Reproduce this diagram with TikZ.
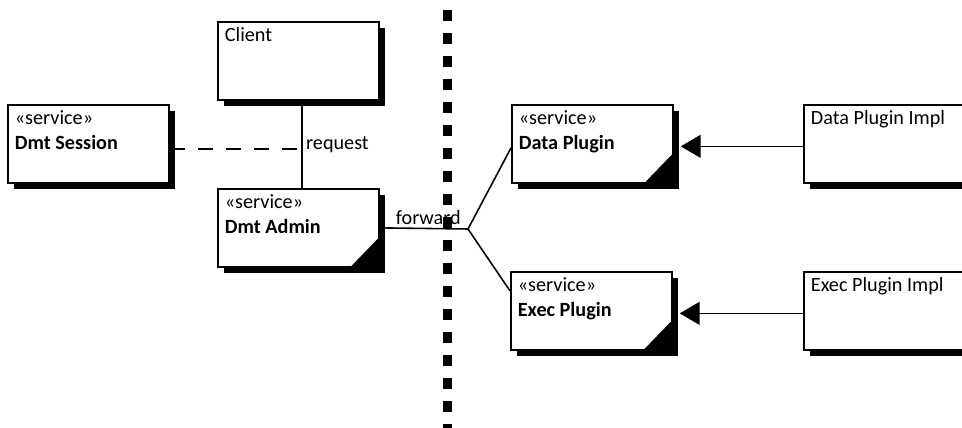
\documentclass[tikz,border=0pt]{standalone}
\usepackage{fontspec}
\setmainfont{Carlito}
\usetikzlibrary{arrows.meta,shadows}
\newcommand{\boxtext}[1]{\parbox[t][\dimexpr1.56cm-2pt\relax][t]{2.94cm}{\raggedright\strut#1}}

\begin{document}
\begin{tikzpicture}[
  x=0.02cm,y=-0.02cm,
  font=\fontsize{11.5}{14.2}\selectfont,
  box/.style={draw,line width=1pt,fill=white,anchor=north west,minimum width=3.22cm,minimum height=1.56cm,
    inner xsep=0.14cm,inner ysep=1pt,drop shadow={shadow xshift=0.13cm,shadow yshift=-0.13cm,fill=black,opacity=1}},
  conn/.style={line width=0.9pt},
  arr/.style={conn,-{Triangle[length=0.4cm,width=0.46cm]},shorten >=0.14cm},
  divider/.style={line width=0.18cm,dash pattern=on 0.22cm off 0.24cm},
  lbl/.style={inner sep=2pt}]
  \path[use as bounding box] (0,0) rectangle (962,428);
  \clip (0,0) rectangle (962,428);
  \coordinate (divtop) at (447,10);
  \coordinate (divbot) at (447,440);
  \coordinate (fork) at (468,229);
  \draw[divider] (divtop) -- (divbot);

  \node[box] (client) at (217,21) {\boxtext{Client}};
  \node[box] (session) at (7,104) {\boxtext{«service»\\\textbf{Dmt Session}}};
  \node[box] (admin) at (217,188) {\boxtext{«service»\\\textbf{Dmt Admin}}};
  \node[box] (data) at (511,104) {\boxtext{«service»\\\textbf{Data Plugin}}};
  \node[box] (exec) at (510,271) {\boxtext{«service»\\\textbf{Exec Plugin}}};
  \node[box] (dataimpl) at (803,104) {\boxtext{Data Plugin Impl}};
  \node[box] (execimpl) at (803,271) {\boxtext{Exec Plugin Impl}};
  \foreach \n in {admin,data,exec}
    \fill (\n.south east) -- ++(-0.6cm,0) -- ++(0.6cm,0.62cm) -- cycle;

  \draw[conn] ([xshift=0.07cm]client.south) -- node[right,lbl]{request} ([xshift=0.07cm]admin.north);
  \draw[conn,dashed,dash pattern=on 0.3cm off 0.26cm] ([yshift=-0.1cm]session.east) -- ([yshift=-0.1cm,xshift=0.07cm]session.east -| client.south);
  \draw[conn] (admin.east) -- node[above,lbl,pos=0.55]{forward} (fork);
  \draw[conn] (fork) -- ([yshift=-0.08cm]data.west);
  \draw[conn] (fork) -- ([yshift=0.4cm]exec.west);
  \draw[arr] ([yshift=-0.05cm]dataimpl.west) -- ([yshift=-0.05cm]data.east);
  \draw[arr] ([yshift=-0.05cm]execimpl.west) -- ([yshift=-0.05cm]exec.east);
\end{tikzpicture}
\end{document}
